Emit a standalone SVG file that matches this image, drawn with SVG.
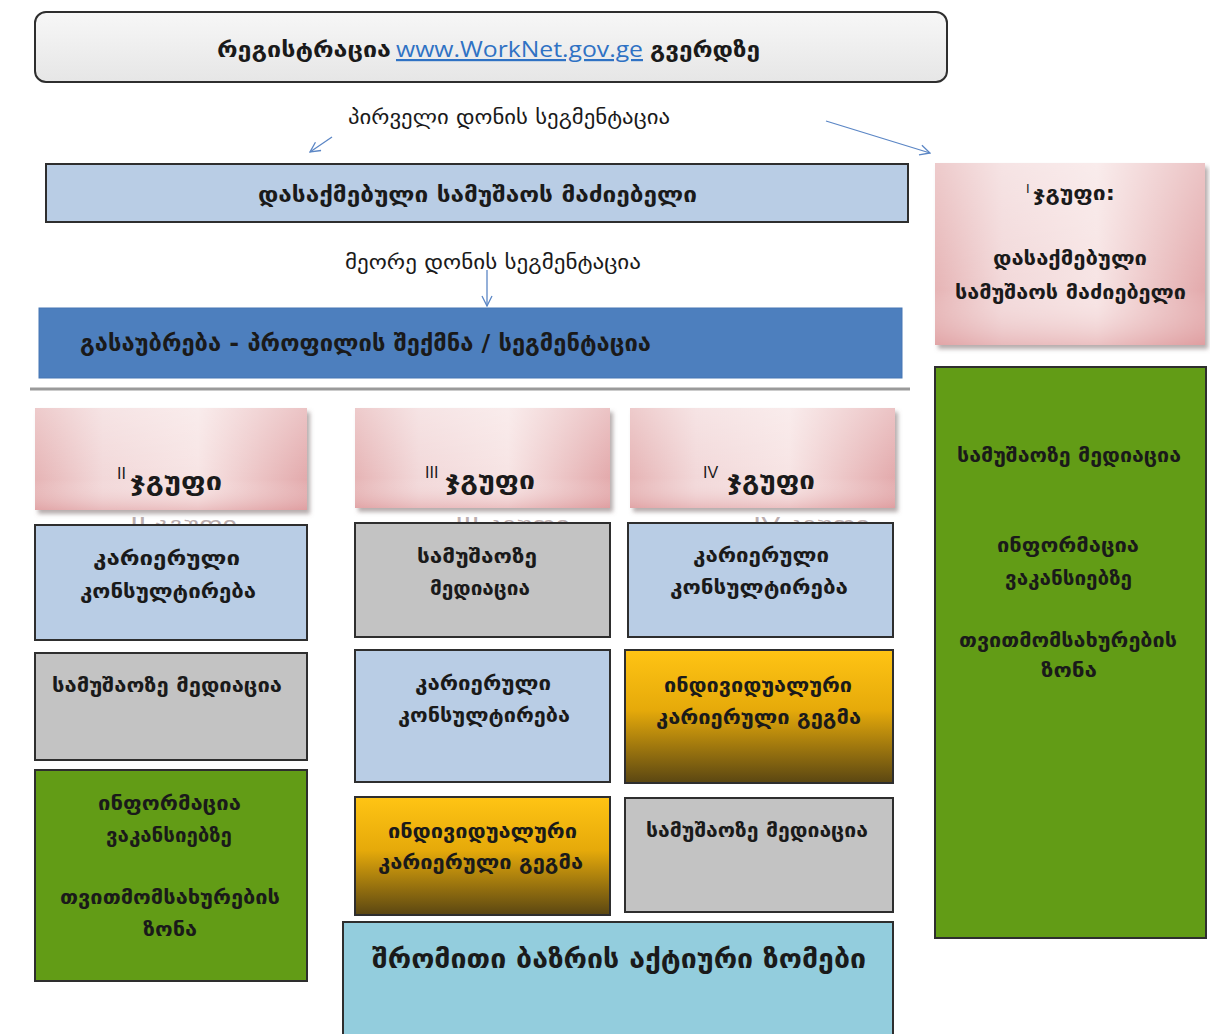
<svg xmlns="http://www.w3.org/2000/svg" width="1210" height="1034" viewBox="0 0 1210 1034">
<defs>
<linearGradient id="gTop" x1="0" y1="0" x2="0" y2="1"><stop offset="0" stop-color="#f7f7f7"/><stop offset="1" stop-color="#e6e6e6"/></linearGradient>
<linearGradient id="gPink" x1="0" y1="0" x2="1" y2="0"><stop offset="0" stop-color="#e6b4b5"/><stop offset="0.25" stop-color="#f2d8d9"/><stop offset="0.6" stop-color="#f7e4e4"/><stop offset="1" stop-color="#e3aaac"/></linearGradient>
<linearGradient id="gPinkV" x1="0" y1="0" x2="0" y2="1"><stop offset="0" stop-color="#ffffff" stop-opacity="0.3"/><stop offset="0.7" stop-color="#ffffff" stop-opacity="0"/><stop offset="1" stop-color="#d98c8f" stop-opacity="0.4"/></linearGradient>
<linearGradient id="gGold" x1="0" y1="0" x2="0" y2="1"><stop offset="0" stop-color="#ffc414"/><stop offset="0.45" stop-color="#e6aa0a"/><stop offset="1" stop-color="#5a4612"/></linearGradient>
<filter id="shadow" x="-5%" y="-5%" width="115%" height="125%"><feDropShadow dx="3" dy="4" stdDeviation="2" flood-color="#7a6a6a" flood-opacity="0.55"/></filter>
<marker id="arr" viewBox="0 0 12 12" refX="11" refY="6" markerWidth="12" markerHeight="12" markerUnits="userSpaceOnUse" orient="auto"><path d="M1,1 L11,6 L1,11" fill="none" stroke="#5b86c5" stroke-width="1.3"/></marker>
<style>
.t{font-family:"DejaVu Sans","Noto Sans",sans-serif;fill:#1a1a1a;text-anchor:middle}
.s{text-anchor:start}
.b{font-weight:bold}
.box{stroke:#2e2e2e;stroke-width:2}
.blue{fill:#b9cde5}
.grey{fill:#c3c3c3}
.green{fill:#629c16}
.gold{fill:url(#gGold)}
.conn{stroke:#5b86c5;stroke-width:1.3;fill:none;marker-end:url(#arr)}
.ghost{font-family:"DejaVu Sans",sans-serif;fill:#bcaeaf;font-size:20px;text-anchor:start}
</style>
</defs>
<rect width="1210" height="1034" fill="#ffffff"/>

<g id="registration">
<rect x="35" y="12" width="912" height="70" rx="11" fill="url(#gTop)" stroke="#2e2e2e" stroke-width="2"/>
<text class="t s b" x="217" y="57" font-size="22" textLength="174" lengthAdjust="spacingAndGlyphs">რეგისტრაცია</text>
<text x="396" y="57" font-family="'Open Sans','Liberation Sans',sans-serif" font-size="22" fill="#2f72c4" text-decoration="underline" textLength="247" lengthAdjust="spacingAndGlyphs">www.WorkNet.gov.ge</text>
<text class="t s b" x="650" y="57" font-size="22" textLength="110" lengthAdjust="spacingAndGlyphs">გვერდზე</text>
</g>

<g id="label-first-level">
<text class="t s" x="348" y="124" font-size="19" textLength="322" lengthAdjust="spacingAndGlyphs">პირველი დონის სეგმენტაცია</text>
</g>

<g id="connectors">
<line class="conn" x1="332" y1="137" x2="310" y2="152"/>
<line class="conn" x1="826" y1="121" x2="930" y2="153"/>
<line class="conn" x1="487" y1="270" x2="487" y2="306"/>
</g>

<g id="job-seeker">
<rect class="box blue" x="46" y="164" width="862" height="58"/>
<text class="t s b" x="258" y="202" font-size="22" textLength="439" lengthAdjust="spacingAndGlyphs">დასაქმებული სამუშაოს მაძიებელი</text>
</g>

<g id="label-second-level">
<text class="t s" x="345" y="269" font-size="19" textLength="296" lengthAdjust="spacingAndGlyphs">მეორე დონის სეგმენტაცია</text>
</g>

<g id="interview">
<rect x="39" y="308" width="863" height="70" fill="#4d7fbe" stroke="#4677b4" stroke-width="1"/>
<text class="t s b" x="80" y="351" font-size="23" textLength="571" lengthAdjust="spacingAndGlyphs">გასაუბრება - პროფილის შექმნა / სეგმენტაცია</text>
</g>

<g id="divider">
<line x1="30" y1="389" x2="910" y2="389" stroke="#9a9a9a" stroke-width="3"/>
</g>

<!-- Group I -->
<g id="group1-header">
<rect x="935" y="163" width="270" height="182" fill="url(#gPink)" filter="url(#shadow)"/>
<rect x="935" y="163" width="270" height="182" fill="url(#gPinkV)"/>
<text x="1026" y="193" font-family="'Liberation Sans',sans-serif" font-size="13" fill="#1a1a1a">I</text>
<text class="t s b" x="1033" y="200" font-size="20" textLength="82" lengthAdjust="spacingAndGlyphs">ჯგუფი:</text>
<text class="t s b" x="993" y="265" font-size="20" textLength="154" lengthAdjust="spacingAndGlyphs">დასაქმებული</text>
<text class="t s b" x="955" y="299" font-size="20" textLength="231" lengthAdjust="spacingAndGlyphs">სამუშაოს მაძიებელი</text>
</g>
<g id="group1-services">
<rect class="box green" x="935" y="367" width="271" height="571"/>
<text class="t s b" x="957" y="462" font-size="20" textLength="224" lengthAdjust="spacingAndGlyphs">სამუშაოზე მედიაცია</text>
<text class="t s b" x="997" y="552" font-size="20" textLength="142" lengthAdjust="spacingAndGlyphs">ინფორმაცია</text>
<text class="t s b" x="1005" y="585" font-size="20" textLength="127" lengthAdjust="spacingAndGlyphs">ვაკანსიებზე</text>
<text class="t s b" x="959" y="647" font-size="20" textLength="218" lengthAdjust="spacingAndGlyphs">თვითმომსახურების</text>
<text class="t s b" x="1041" y="677" font-size="20" textLength="56" lengthAdjust="spacingAndGlyphs">ზონა</text>
</g>

<!-- ghost texts -->
<g id="ghost-labels">
<text class="ghost" x="130" y="531" textLength="107" lengthAdjust="spacingAndGlyphs">II ჯგუფი</text>
<text class="ghost" x="455" y="531" textLength="115" lengthAdjust="spacingAndGlyphs">III ჯგუფი</text>
<text class="ghost" x="753" y="531" textLength="117" lengthAdjust="spacingAndGlyphs">IV ჯგუფი</text>
</g>

<!-- Group II -->
<g id="group2-header">
<rect x="35" y="408" width="272" height="102" fill="url(#gPink)" filter="url(#shadow)"/>
<rect x="35" y="408" width="272" height="102" fill="url(#gPinkV)"/>
<text x="117" y="479" font-family="'Liberation Sans',sans-serif" font-size="16" fill="#1a1a1a">II</text>
<text class="t s b" x="130" y="490" font-size="25" textLength="92" lengthAdjust="spacingAndGlyphs">ჯგუფი</text>
</g>
<g id="group2-career">
<rect class="box blue" x="35" y="525" width="272" height="115"/>
<text class="t s b" x="93" y="565" font-size="20" textLength="147" lengthAdjust="spacingAndGlyphs">კარიერული</text>
<text class="t s b" x="80" y="598" font-size="20" textLength="176" lengthAdjust="spacingAndGlyphs">კონსულტირება</text>
</g>
<g id="group2-mediation">
<rect class="box grey" x="35" y="653" width="272" height="107"/>
<text class="t s b" x="52" y="692" font-size="20" textLength="230" lengthAdjust="spacingAndGlyphs">სამუშაოზე მედიაცია</text>
</g>
<g id="group2-info">
<rect class="box green" x="35" y="770" width="272" height="211"/>
<text class="t s b" x="98" y="810" font-size="20" textLength="143" lengthAdjust="spacingAndGlyphs">ინფორმაცია</text>
<text class="t s b" x="106" y="842" font-size="20" textLength="126" lengthAdjust="spacingAndGlyphs">ვაკანსიებზე</text>
<text class="t s b" x="60" y="904" font-size="20" textLength="220" lengthAdjust="spacingAndGlyphs">თვითმომსახურების</text>
<text class="t s b" x="143" y="936" font-size="20" textLength="54" lengthAdjust="spacingAndGlyphs">ზონა</text>
</g>

<!-- Group III -->
<g id="group3-header">
<rect x="355" y="408" width="255" height="100" fill="url(#gPink)" filter="url(#shadow)"/>
<rect x="355" y="408" width="255" height="100" fill="url(#gPinkV)"/>
<text x="425" y="478" font-family="'Liberation Sans',sans-serif" font-size="16" fill="#1a1a1a">III</text>
<text class="t s b" x="445" y="489" font-size="25" textLength="90" lengthAdjust="spacingAndGlyphs">ჯგუფი</text>
</g>
<g id="group3-mediation">
<rect class="box grey" x="355" y="523" width="255" height="114"/>
<text class="t s b" x="417" y="563" font-size="20" textLength="120" lengthAdjust="spacingAndGlyphs">სამუშაოზე</text>
<text class="t s b" x="430" y="595" font-size="20" textLength="100" lengthAdjust="spacingAndGlyphs">მედიაცია</text>
</g>
<g id="group3-career">
<rect class="box blue" x="355" y="650" width="255" height="132"/>
<text class="t s b" x="415" y="690" font-size="20" textLength="136" lengthAdjust="spacingAndGlyphs">კარიერული</text>
<text class="t s b" x="398" y="722" font-size="20" textLength="172" lengthAdjust="spacingAndGlyphs">კონსულტირება</text>
</g>
<g id="group3-plan">
<rect class="box gold" x="355" y="797" width="255" height="118"/>
<text class="t s b" x="388" y="838" font-size="20" textLength="189" lengthAdjust="spacingAndGlyphs">ინდივიდუალური</text>
<text class="t s b" x="378" y="869" font-size="20" textLength="205" lengthAdjust="spacingAndGlyphs">კარიერული გეგმა</text>
</g>

<!-- Group IV -->
<g id="group4-header">
<rect x="630" y="408" width="265" height="100" fill="url(#gPink)" filter="url(#shadow)"/>
<rect x="630" y="408" width="265" height="100" fill="url(#gPinkV)"/>
<text x="703" y="478" font-family="'Liberation Sans',sans-serif" font-size="16" fill="#1a1a1a">IV</text>
<text class="t s b" x="727" y="489" font-size="25" textLength="88" lengthAdjust="spacingAndGlyphs">ჯგუფი</text>
</g>
<g id="group4-career">
<rect class="box blue" x="628" y="523" width="265" height="114"/>
<text class="t s b" x="693" y="562" font-size="20" textLength="136" lengthAdjust="spacingAndGlyphs">კარიერული</text>
<text class="t s b" x="670" y="594" font-size="20" textLength="178" lengthAdjust="spacingAndGlyphs">კონსულტირება</text>
</g>
<g id="group4-plan">
<rect class="box gold" x="625" y="650" width="268" height="133"/>
<text class="t s b" x="664" y="692" font-size="20" textLength="188" lengthAdjust="spacingAndGlyphs">ინდივიდუალური</text>
<text class="t s b" x="656" y="724" font-size="20" textLength="205" lengthAdjust="spacingAndGlyphs">კარიერული გეგმა</text>
</g>
<g id="group4-mediation">
<rect class="box grey" x="625" y="798" width="268" height="114"/>
<text class="t s b" x="646" y="837" font-size="20" textLength="222" lengthAdjust="spacingAndGlyphs">სამუშაოზე მედიაცია</text>
</g>

<g id="active-measures">
<rect class="box" x="343" y="922" width="550" height="116" fill="#93cddd"/>
<text class="t s b" x="372" y="968" font-size="27" textLength="494" lengthAdjust="spacingAndGlyphs">შრომითი ბაზრის აქტიური ზომები</text>
</g>
</svg>
